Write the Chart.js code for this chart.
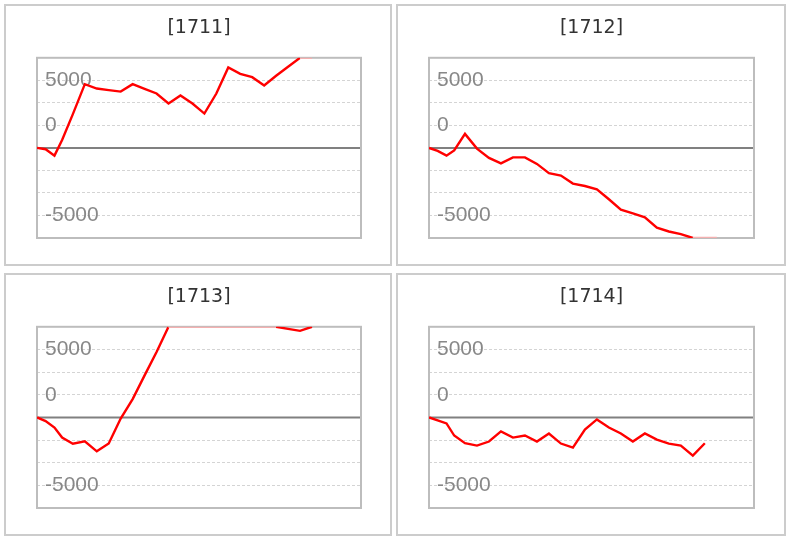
<!DOCTYPE html>
<html>
<head>
<meta charset="utf-8">
<script src="https://cdn.jsdelivr.net/npm/chart.js@4"></script>
<style>
  body { margin: 0; background: #fff; width: 789px; height: 540px; position: relative; overflow: hidden; }
  .panel { position: absolute; box-sizing: border-box; border: 2px solid #cccccc; background: #fff; }
  .panel canvas { display: block; }
</style>
</head>
<body>
<div class="panel" style="left:4px;top:4px;width:388px;height:262px"><canvas id="c1711" width="384" height="258"></canvas></div>
<div class="panel" style="left:396px;top:4px;width:390px;height:262px"><canvas id="c1712" width="386" height="258"></canvas></div>
<div class="panel" style="left:4px;top:273px;width:388px;height:263px"><canvas id="c1713" width="384" height="259"></canvas></div>
<div class="panel" style="left:396px;top:273px;width:390px;height:263px"><canvas id="c1714" width="386" height="259"></canvas></div>
<script>
// x positions of the points (trading days along the month)
const days = [0, 0.72, 1.46, 2.1, 3, 4, 5, 6, 7, 8, 9, 10, 11, 12, 13, 14, 15, 16, 17, 18, 19, 20, 21, 22, 23, 24];

const titles = ['[1711]', '[1712]', '[1713]', '[1714]'];

const s1711 = [0, -115, -685, 700, 3000, 5660, 5270, 5130, 5000, 5660, 5250, 4830, 3940, 4650, 3940, 3050,
  4830, 7140, 6580, 6280, 5540, 6400, 7200, 8000, 8000];
const s1712 = [0, -270, -690, -220, 1245, -60, -890, -1380, -845, -845, -1420, -2250, -2460, -3170, -3380, -3670,
  -4560, -5490, -5820, -6160, -7090, -7420, -7650, -8000, -8000, -8000];
const s1713 = [0, -320, -900, -1780, -2320, -2120, -3000, -2300, -100, 1620, 3710, 5780, 8000, 8000, 8000, 8000,
  8000, 8000, 8000, 8000, 8000, 8000, 7820, 7640, 8000];
const s1714 = [0, -260, -530, -1600, -2280, -2490, -2130, -1240, -1780, -1600, -2130, -1420, -2310, -2670, -1070, -180,
  -890, -1420, -2130, -1420, -1960, -2310, -2490, -3380, -2280];

const yMin = -8000, yMax = 8000, yStep = 2000;
const tickValues = [6000, 2000, -6000];
const tickLabels = ['5000', '0', '-5000'];

const series = [s1711, s1712, s1713, s1714];
const canvasIds = ['c1711', 'c1712', 'c1713', 'c1714'];

const frame = {
    id: 'frame',
    beforeDatasetsDraw(chart) {
        const a = chart.chartArea;
        const y = chart.scales.y;
        const ctx = chart.ctx;
        ctx.save();
        // zero line
        const y0 = y.getPixelForValue(0);
        ctx.strokeStyle = '#808080';
        ctx.lineWidth = 2;
        ctx.beginPath();
        ctx.moveTo(a.left, y0);
        ctx.lineTo(a.right, y0);
        ctx.stroke();
        // plot border
        ctx.strokeStyle = '#bdbdbd';
        ctx.strokeRect(a.left, a.top, a.right - a.left, a.bottom - a.top);
        ctx.restore();
    }
};

const atEdge = v => v >= yMax || v <= yMin;

series.forEach((vals, i) => {
    const canvas = document.getElementById(canvasIds[i]);
    const rightPad = canvas.width - 31 - (i % 2 ? 325 : 324);
    new Chart(canvas, {
        type: 'line',
        data: {
            datasets: [{
                data: vals.map((v, k) => ({ x: days[k], y: v })),
                borderColor: '#ff0000',
                borderWidth: 2.4,
                pointRadius: 0,
                tension: 0,
                segment: {
                    // values sitting on the plot edge are drawn pale
                    borderColor: c => (atEdge(c.p0.parsed.y) && atEdge(c.p1.parsed.y)) ? '#f4b0b0' : undefined
                }
            }]
        },
        options: {
            responsive: false,
            animation: false,
            devicePixelRatio: 1,
            layout: { padding: { left: 31, right: rightPad, top: 0, bottom: 26 } },
            plugins: {
                legend: { display: false },
                tooltip: { enabled: false },
                title: {
                    display: true,
                    text: titles[i],
                    color: '#333333',
                    font: { family: 'DejaVu Sans', size: 19, weight: 'normal', lineHeight: 1.2 },
                    padding: { top: 11, bottom: 18 }
                }
            },
            scales: {
                x: {
                    type: 'linear',
                    min: 0,
                    max: 27.1,
                    display: false
                },
                y: {
                    min: yMin,
                    max: yMax,
                    afterFit: s => { s.width = 0; },
                    border: { display: false, dash: [3, 2] },
                    grid: {
                        drawTicks: false,
                        lineWidth: 1,
                        color: c => (c.tick && (c.tick.value === 0 || c.tick.value === yMin || c.tick.value === yMax)) ? 'rgba(0,0,0,0)' : '#d4d4d4'
                    },
                    ticks: {
                        stepSize: yStep,
                        autoSkip: false,
                        mirror: true,
                        padding: 8,
                        color: '#888888',
                        font: { family: 'Liberation Sans', size: 21 },
                        callback: v => {
                            const k = tickValues.indexOf(v);
                            return k >= 0 ? tickLabels[k] : '';
                        }
                    }
                }
            }
        },
        plugins: [frame]
    });
});
</script>
</body>
</html>
